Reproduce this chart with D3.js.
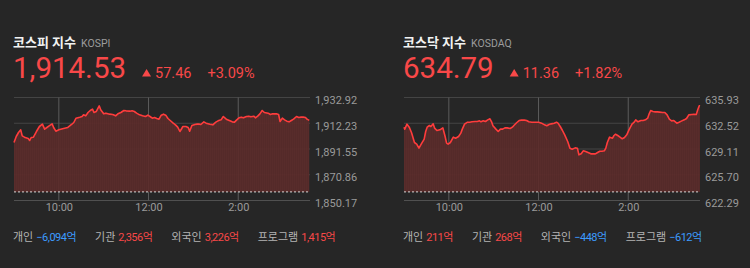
<!DOCTYPE html>
<html>
<head>
<meta charset="utf-8">
<script src="https://cdn.jsdelivr.net/npm/d3@7"></script>
<style>
body { margin: 0; background: #262626; }
svg { display: block; font-family: Roboto, "Noto Sans CJK KR", sans-serif; }
</style>
</head>
<body>
<svg id="chart" width="750" height="268"></svg>
<script>
// minutes since 9:00 and index values
var kospi_minutes = [
    0, 3, 6, 9, 11, 14, 19, 21, 23, 26,
    30, 34, 38, 41, 44, 47, 51, 53, 56, 60,
    65, 72, 77, 80, 83, 88, 91, 93, 96, 99,
    102, 105, 107, 110, 114, 116, 120, 123, 128, 132,
    136, 139, 143, 147, 150, 155, 158, 161, 164, 168,
    172, 176, 179, 182, 185, 188, 191, 194, 197, 200,
    203, 206, 209, 213, 216, 219, 222, 226, 230, 233,
    235, 238, 242, 245, 248, 250, 254, 257, 262, 266,
    270, 273, 277, 280, 284, 288, 292, 295, 298, 301,
    304, 307, 311, 314, 317, 321, 323, 326, 329, 332,
    335, 340, 343, 346, 351, 354, 356, 359, 362, 365,
    368, 371, 374, 378, 381, 384, 387, 390, 392, 395
];
var kospi_values = [
    1896.77, 1901.59, 1904.80, 1906.94, 1902.12, 1901.05, 1899.98, 1898.37, 1900.78, 1901.05,
    1905.60, 1909.62, 1911.50, 1907.48, 1908.82, 1910.16, 1911.76, 1908.82, 1905.87, 1906.94,
    1907.75, 1908.82, 1911.23, 1912.83, 1916.32, 1917.12, 1917.66, 1918.99, 1918.19, 1920.87,
    1922.48, 1923.55, 1920.87, 1921.67, 1926.22, 1923.01, 1919.80, 1920.33, 1919.53, 1919.26,
    1918.19, 1919.80, 1920.87, 1922.48, 1922.21, 1921.94, 1922.21, 1921.67, 1920.33, 1918.99,
    1918.19, 1917.66, 1918.73, 1917.66, 1916.32, 1916.85, 1916.05, 1915.51, 1918.73, 1919.53,
    1918.73, 1916.05, 1914.44, 1912.30, 1910.96, 1909.09, 1905.60, 1909.62, 1909.62, 1908.82,
    1905.87, 1910.42, 1911.23, 1911.50, 1911.50, 1911.23, 1913.37, 1912.30, 1911.50, 1910.96,
    1913.10, 1914.17, 1914.98, 1917.66, 1915.51, 1914.44, 1913.37, 1913.10, 1914.98, 1916.58,
    1917.12, 1916.58, 1917.66, 1917.92, 1917.39, 1917.92, 1916.58, 1917.92, 1919.80, 1922.48,
    1920.87, 1920.33, 1919.26, 1919.80, 1919.80, 1919.26, 1913.64, 1916.32, 1914.98, 1913.91,
    1913.37, 1914.44, 1915.51, 1917.66, 1916.85, 1917.12, 1917.12, 1916.85, 1915.51, 1914.53
];

var kosdaq_minutes = [
    0, 1, 4, 7, 10, 14, 17, 20, 23, 27,
    29, 31, 34, 36, 39, 41, 44, 48, 52, 55,
    57, 59, 62, 66, 69, 73, 76, 78, 81, 85,
    88, 91, 95, 98, 101, 103, 106, 109, 112, 115,
    117, 119, 123, 126, 129, 132, 135, 138, 142, 145,
    147, 151, 154, 157, 161, 164, 167, 171, 174, 177,
    180, 184, 188, 191, 194, 197, 201, 204, 206, 209,
    212, 215, 219, 222, 225, 229, 232, 234, 237, 240,
    243, 247, 250, 253, 256, 259, 262, 265, 268, 270,
    272, 275, 279, 281, 283, 286, 289, 292, 295, 298,
    301, 305, 308, 310, 313, 317, 320, 323, 326, 328,
    330, 333, 336, 339, 342, 346, 349, 352, 355, 358,
    361, 365, 368, 371, 375, 378, 381, 385, 388, 391,
    393, 395, 396
];
var kosdaq_values = [
    632.00, 631.74, 632.40, 632.00, 631.30, 629.97, 629.75, 629.22, 629.75, 630.41,
    631.43, 632.00, 632.22, 632.09, 632.44, 631.87, 631.56, 631.65, 631.91, 630.77,
    629.88, 629.75, 629.97, 630.68, 630.54, 630.77, 631.21, 631.74, 632.40, 632.66,
    632.66, 632.71, 632.75, 632.75, 632.84, 632.71, 632.84, 632.75, 632.97, 633.11,
    632.75, 632.18, 631.74, 631.43, 631.74, 631.74, 631.91, 631.91, 631.82, 632.00,
    632.22, 632.62, 632.88, 632.93, 632.93, 632.88, 632.71, 632.66, 632.66, 632.66,
    632.66, 632.53, 632.31, 632.18, 632.35, 632.44, 632.53, 632.66, 632.53, 632.09,
    631.56, 630.99, 630.10, 629.22, 629.09, 629.26, 629.22, 628.34, 628.47, 628.87,
    628.78, 628.60, 628.47, 628.47, 628.47, 628.65, 628.82, 628.82, 628.87, 629.22,
    629.97, 630.68, 630.54, 630.90, 631.07, 630.90, 630.68, 630.46, 630.63, 630.99,
    631.65, 632.40, 632.66, 632.97, 632.71, 632.88, 632.88, 632.97, 633.19, 633.77,
    634.21, 634.08, 634.03, 634.03, 633.99, 633.94, 633.94, 633.63, 633.06, 632.84,
    632.88, 632.53, 632.66, 632.80, 632.97, 633.15, 633.63, 633.68, 633.72, 633.68,
    634.30, 634.83, 634.79
];

var kospi_ticks = [1850.17, 1870.86, 1891.55, 1912.23, 1932.92];
var kosdaq_ticks = [622.29, 625.70, 629.11, 632.52, 635.93];

var time_ticks = [60, 180, 300];
var time_labels = ["10:00", "12:00", "2:00"];

var flow_labels = ["개인", "기관", "외국인", "프로그램"];
var kospi_flows = [-6094, 2356, 3226, 1415];
var kosdaq_flows = [211, 268, -448, -612];

const RED = "#f84848";
const BLUE = "#3d9cff";
const MINUTES_TOTAL = 396;

var svg = d3.select("#chart");

var pattern = svg.append("defs").append("pattern")
    .attr("id", "stripes")
    .attr("patternUnits", "userSpaceOnUse")
    .attr("width", 2)
    .attr("height", 10);
pattern.append("rect").attr("width", 2).attr("height", 10).attr("fill", "#582a29");
pattern.append("rect").attr("width", 1).attr("height", 10).attr("fill", "#5c2c2b");

function draw_panel(left, title, code, close, change, pct, minutes, values, ticks, flows) {
    var g = svg.append("g");
    const PLOT_LEFT = left + 1;
    const PLOT_RIGHT = left + 297;
    const PLOT_TOP = 97.5;
    const PLOT_BOTTOM = 200.5;

    // header
    var t = g.append("text")
        .attr("x", left).attr("y", 47)
        .attr("font-size", 13).attr("font-weight", "bold")
        .attr("fill", "#f2f2f2")
        .text(title);
    var tw = t.node().getComputedTextLength();
    g.append("text")
        .attr("x", left + tw + 5).attr("y", 46.5)
        .attr("font-size", 10.5)
        .attr("fill", "#9c9c9c")
        .text(code);

    var big = g.append("text")
        .attr("x", left).attr("y", 78)
        .attr("font-size", 29.5)
        .attr("fill", RED)
        .text(d3.format(",.2f")(close));
    var x0 = left + big.node().getComputedTextLength() + 16;
    g.append("path")
        .attr("d", "M" + x0 + ",76.5 L" + (x0 + 9) + ",76.5 L" + (x0 + 4.5) + ",69 Z")
        .attr("fill", RED);
    var ch = g.append("text")
        .attr("x", x0 + 13).attr("y", 78)
        .attr("font-size", 14.5)
        .attr("fill", RED)
        .text(d3.format(".2f")(change));
    g.append("text")
        .attr("x", x0 + 13 + ch.node().getComputedTextLength() + 16).attr("y", 78)
        .attr("font-size", 14.5)
        .attr("fill", RED)
        .text("+" + d3.format(".2f")(pct) + "%");

    // scales
    var x = d3.scaleLinear().domain([0, MINUTES_TOTAL]).range([PLOT_LEFT, PLOT_RIGHT]);
    var y = d3.scaleLinear().domain([ticks[0], ticks[ticks.length - 1]]).range([PLOT_BOTTOM, PLOT_TOP]);
    var prev_close = close - change;

    // horizontal grid
    g.selectAll("line.hgrid")
        .data(ticks)
        .join("line")
        .attr("class", "hgrid")
        .attr("x1", PLOT_LEFT).attr("x2", PLOT_RIGHT)
        .attr("y1", d => y(d)).attr("y2", d => y(d))
        .attr("stroke", (d, i) => i == 0 ? "#505050" : "#444")
        .attr("stroke-width", 1);

    // vertical grid
    g.selectAll("line.vgrid")
        .data(time_ticks)
        .join("line")
        .attr("class", "vgrid")
        .attr("x1", d => x(d)).attr("x2", d => x(d))
        .attr("y1", PLOT_TOP).attr("y2", PLOT_BOTTOM)
        .attr("stroke", "#5c5c5c")
        .attr("stroke-width", 1);

    var data = minutes.map((m, i) => ({ m: m, v: values[i] }));

    var area = d3.area()
        .x(d => x(d.m))
        .y0(y(prev_close))
        .y1(d => y(d.v));
    g.append("path")
        .datum(data)
        .attr("d", area)
        .attr("fill", "url(#stripes)")
        .attr("opacity", 0.93);

    // previous close
    g.append("line")
        .attr("x1", PLOT_LEFT).attr("x2", PLOT_RIGHT)
        .attr("y1", y(prev_close)).attr("y2", y(prev_close))
        .attr("stroke", "#d8d8d8")
        .attr("stroke-width", 1)
        .attr("stroke-dasharray", "2,2");

    var line = d3.line()
        .x(d => x(d.m))
        .y(d => y(d.v));
    g.append("path")
        .datum(data)
        .attr("d", line)
        .attr("fill", "none")
        .attr("stroke", "#ff3c3c")
        .attr("stroke-width", 1.6)
        .attr("stroke-linejoin", "round");

    // axes
    var y_axis = d3.axisRight(y)
        .tickValues(ticks)
        .tickSize(0)
        .tickPadding(0)
        .tickFormat(d3.format(",.2f"));
    var ya = g.append("g")
        .attr("transform", "translate(" + (PLOT_RIGHT + 5) + ",2.5)")
        .call(y_axis);
    ya.select(".domain").remove();
    ya.selectAll("text")
        .attr("fill", "#9a9a9a")
        .attr("font-size", 11)
        .attr("font-family", "Roboto, sans-serif");

    var x_axis = d3.axisBottom(x)
        .tickValues(time_ticks)
        .tickSize(0)
        .tickPadding(0)
        .tickFormat((d, i) => time_labels[i]);
    var xa = g.append("g")
        .attr("transform", "translate(0," + (PLOT_BOTTOM + 3) + ")")
        .call(x_axis);
    xa.select(".domain").remove();
    xa.selectAll("text")
        .attr("fill", "#9a9a9a")
        .attr("font-size", 11)
        .attr("font-family", "Roboto, sans-serif");

    // investor flows
    var fx = left;
    flow_labels.forEach(function(label, i) {
        var lt = g.append("text")
            .attr("x", fx).attr("y", 241)
            .attr("font-size", 11)
            .attr("fill", "#b4b4b4")
            .text(label);
        fx += lt.node().getComputedTextLength() + 3;
        var v = flows[i];
        var vt = g.append("text")
            .attr("x", fx).attr("y", 241)
            .attr("font-size", 11)
            .attr("letter-spacing", -0.5)
            .attr("fill", v < 0 ? BLUE : RED)
            .text(d3.format(",")(v) + "억");
        fx += vt.node().getComputedTextLength() + 19;
    });
}

draw_panel(13, "코스피 지수", "KOSPI", 1914.53, 57.46, 3.09,
    kospi_minutes, kospi_values, kospi_ticks, kospi_flows);
draw_panel(403, "코스닥 지수", "KOSDAQ", 634.79, 11.36, 1.82,
    kosdaq_minutes, kosdaq_values, kosdaq_ticks, kosdaq_flows);
</script>
</body>
</html>
